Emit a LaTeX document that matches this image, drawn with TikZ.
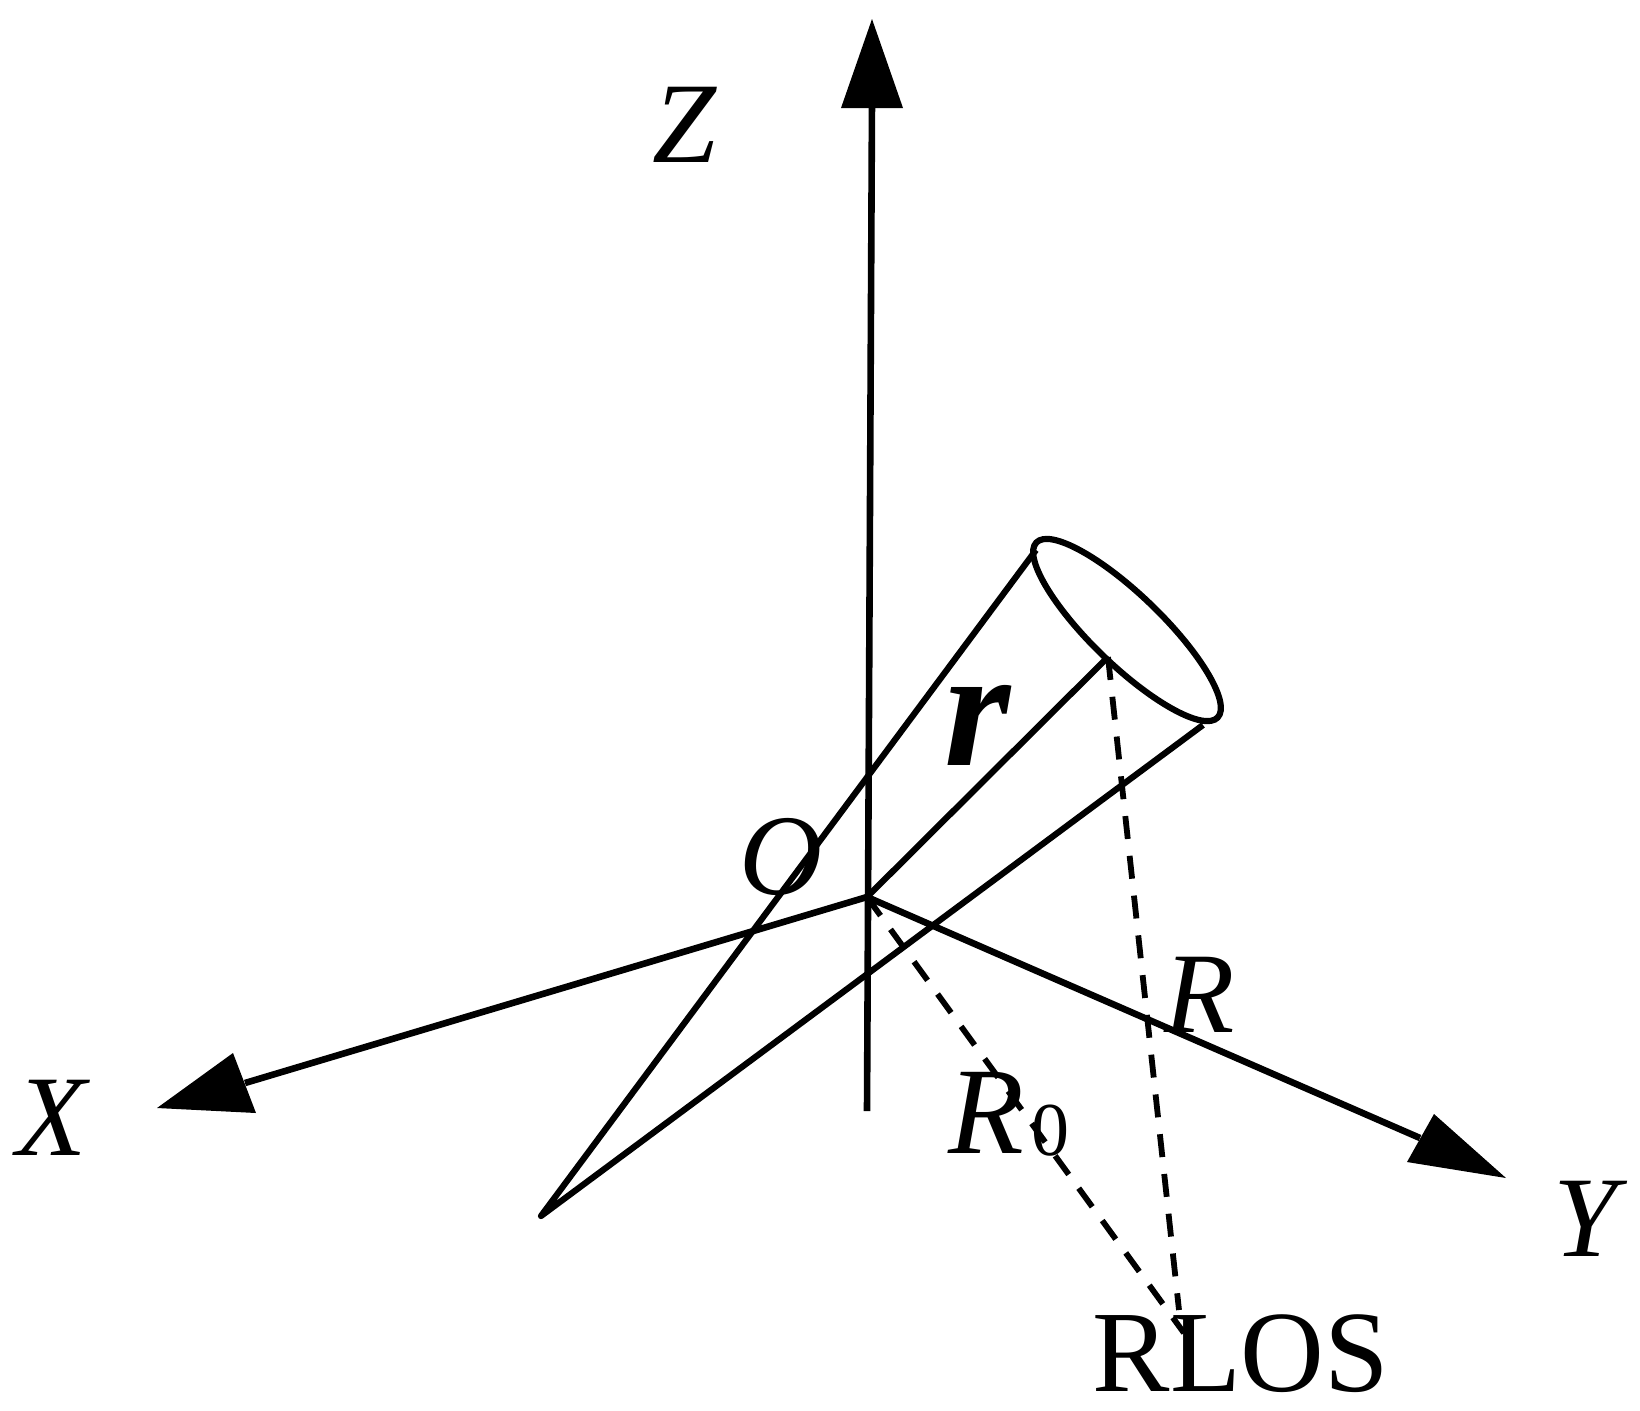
\documentclass[tikz,border=0pt]{standalone}
\usepackage{fontspec}
\setmainfont{Liberation Serif}
\begin{document}
\begin{tikzpicture}[x=0.5pt,y=-0.5pt,
  axisline/.style={line width=3.3pt},
  coneline/.style={line width=3.1pt},
  dashline/.style={line width=2.9pt,dash pattern=on 11.5pt off 8.5pt},
  head/.style={fill=black,draw=none},
  lab/.style={inner sep=0pt,font=\fontsize{57.5}{58}\selectfont\itshape},
  lab2/.style={inner sep=0pt,font=\fontsize{57.5}{58}\selectfont\itshape}]
\useasboundingbox (0,0) rectangle (1640,1410);
\coordinate (O) at (867,897);
\coordinate (ZB) at (867,1111);
\coordinate (ZT) at (872,19);
\coordinate (XT) at (157,1108);
\coordinate (YT) at (1506,1178);
\coordinate (Apex) at (541,1216);
\coordinate (C) at (1127,630);
\coordinate (CL) at (1036,550);
\coordinate (CR) at (1203,725);
\coordinate (CB) at (1108,657);
\coordinate (RL) at (1179,1310);
\coordinate (RL2) at (1184,1333);
% axes
\draw[axisline] (ZB) -- (872,100);
\draw[axisline] (O) -- (245,1083);
\draw[axisline] (O) -- (1420,1138);
\fill[head] (ZT) -- (903,108) -- (841,108) -- cycle;
\fill[head] (XT) -- (233,1053) -- (256,1113) -- cycle;
\fill[head] (YT) -- (1434,1114) -- (1407,1162) -- cycle;
% cone
\draw[coneline,line join=round] (CL) -- (Apex) -- (CR);
\draw[coneline] (O) -- (CB);
\draw[coneline,rotate around={-44:(C)}] (C) ellipse [x radius=126,y radius=35];
% dashed
\draw[dashline] (CB) -- (RL);
\draw[dashline] (O) -- (RL2);
% labels
\node[lab] (zl) at (684,125) {Z};
\node[lab] (xl) at (52,1118) {X};
\node[lab] (yl) at (1585,1219) {Y};
\node[lab2] (ol) at (781,857) {O};
\node[lab] (rl) at (1200,995) {R};
\node[inner sep=0pt,font=\fontsize{62}{64}\selectfont\itshape] (r0) at (986,1113) {R};
\node[inner sep=0pt,font=\fontsize{38}{40}\selectfont] (r0s) at (1050,1131) {0};
\node[inner sep=0pt,font=\fontsize{85}{87}\selectfont\bfseries\itshape] (rr) at (978,725) {r};
\node[inner sep=0pt,font=\fontsize{58}{59}\selectfont] (los) at (1241,1354) {RLOS};
\end{tikzpicture}
\end{document}
